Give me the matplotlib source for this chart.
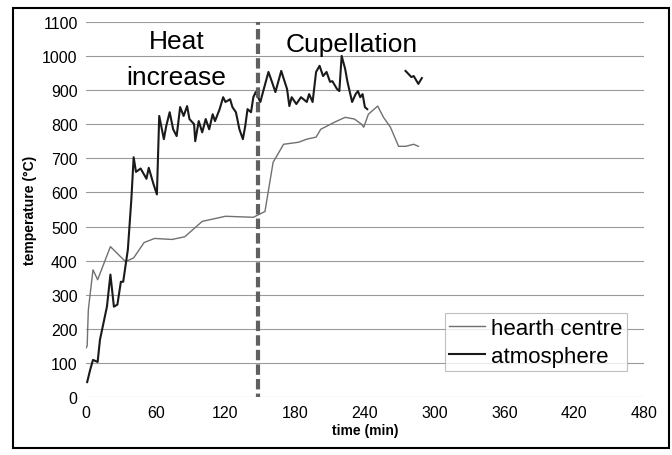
import matplotlib
matplotlib.use("Agg")
import matplotlib.pyplot as plt
from matplotlib.patches import Rectangle

plt.rcParams['font.family'] = ['Liberation Sans', 'DejaVu Sans']

# hearth centre temperature (thin grey line)
hearth_t = [0, 1, 1.5, 2, 6, 10, 21, 34, 41, 50, 59, 74, 85, 100, 120, 144, 154,
            161, 170, 183, 190, 198, 202, 214, 223, 231, 237, 239, 243, 251, 256,
            262, 269, 275, 282, 286]
hearth_T = [144, 150, 206, 256, 373, 344, 441, 397, 408, 453, 465, 462, 470, 515,
            530, 527, 544, 688, 741, 747, 756, 762, 785, 806, 820, 815, 800, 791,
            829, 853, 820, 791, 735, 735, 741, 735]

# atmosphere temperature (black line)
atmos_t = [1, 3.5, 6, 10, 12, 18, 21, 24, 27, 30, 32, 36, 39, 41, 43, 47, 52, 54,
           58, 61, 63, 67, 69, 72, 75, 78, 81, 84, 87, 89, 93, 94, 97, 100, 103,
           106, 109, 111, 115, 118, 120, 124, 126, 129, 132, 135, 137, 139, 142,
           144, 146, 150, 153, 157, 160, 163, 168, 171, 173, 175, 177, 181, 185,
           190, 192, 195, 198, 201, 204, 207, 210, 212, 216, 218, 220, 223, 225,
           229, 232, 234, 236, 238, 240, 242]
atmos_T = [44, 79, 109, 103, 168, 265, 359, 265, 271, 338, 338, 432, 579, 703, 660,
           670, 640, 672, 625, 594, 824, 756, 794, 835, 785, 765, 850, 824, 853,
           815, 800, 750, 809, 776, 815, 785, 829, 809, 844, 879, 865, 873, 850,
           835, 785, 756, 794, 844, 835, 879, 894, 865, 903, 953, 924, 894, 956,
           924, 903, 853, 879, 859, 879, 865, 888, 865, 953, 971, 941, 953, 924,
           926, 903, 897, 1000, 962, 924, 865, 888, 897, 879, 888, 850, 844]

# separate atmosphere fragment later in the run
atmos2_t = [275, 280, 282, 286, 289]
atmos2_T = [956, 938, 941, 918, 935]

phase_change = 148
x_ticks = [0, 60, 120, 180, 240, 300, 360, 420, 480]
y_ticks = list(range(0, 1101, 100))

fig = plt.figure(figsize=(6.72, 4.56), dpi=100)
ax = fig.add_axes([0.128, 0.127, 0.83, 0.823])

for y in y_ticks:
    ax.axhline(y, color='#9a9a9a', linewidth=0.8, zorder=0)

ax.plot(hearth_t, hearth_T, color='#707070', linewidth=1.0, label='hearth centre')
ax.plot(atmos_t, atmos_T, color='#1a1a1a', linewidth=1.5, label='atmosphere')
ax.plot(atmos2_t, atmos2_T, color='#1a1a1a', linewidth=1.5)

ax.plot([phase_change, phase_change], [-20, 1100], color='#606060',
        linewidth=3, linestyle=(0, (2.5, 1)), zorder=3)

ax.text(78, 1043, 'Heat', fontsize=19, ha='center', va='center')
ax.text(78, 938, 'increase', fontsize=19, ha='center', va='center')
ax.text(229, 1035, 'Cupellation', fontsize=19, ha='center', va='center')

ax.set_xlim(0, 480)
ax.set_ylim(0, 1100)
ax.set_xticks(x_ticks)
ax.set_yticks(y_ticks)
ax.tick_params(labelsize=11.5, length=0, pad=6)
for s in ax.spines.values():
    s.set_visible(False)
ax.set_xlabel('time (min)', fontsize=10, fontweight='bold', labelpad=2)
ax.set_ylabel('temperature (°C)', fontsize=10, fontweight='bold', labelpad=4)

leg = ax.legend(loc='lower right', bbox_to_anchor=(0.99, 0.04), fontsize=16,
                frameon=True, fancybox=False, edgecolor='#b0b0b0',
                handlelength=1.6, handletextpad=0.3, borderpad=0.2,
                labelspacing=0.3)
leg.get_frame().set_linewidth(0.8)

fig.patches.append(Rectangle((0.02, 0.015), 0.975, 0.965, transform=fig.transFigure,
                             fill=False, edgecolor='black', linewidth=1.5))

plt.savefig('out.png', dpi=100)
